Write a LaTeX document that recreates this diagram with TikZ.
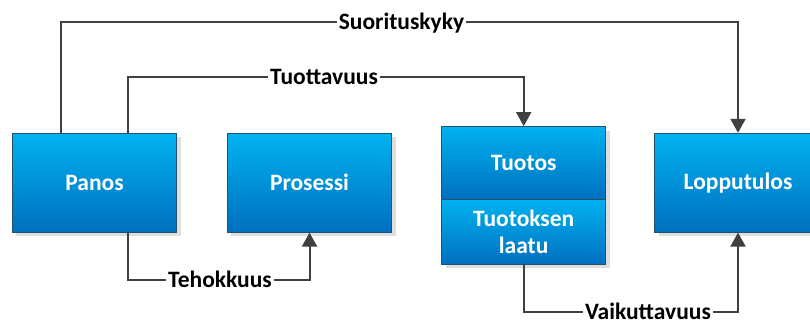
\documentclass[tikz,border=0pt]{standalone}
\usepackage{fontspec}
\setmainfont{Carlito}
\usetikzlibrary{arrows.meta,shadows,calc}
\definecolor{boxtop}{HTML}{00B2F0}
\definecolor{boxbot}{HTML}{0070BF}
\definecolor{boxedge}{HTML}{24506A}
\definecolor{wire}{HTML}{404040}
\tikzset{
  blockbox/.style={draw=boxedge, line width=1.1pt, top color=boxtop, bottom color=boxbot,
    drop shadow={shadow xshift=4pt, shadow yshift=-4pt, fill=black!13, opacity=1},
    text=white, font=\bfseries\fontsize{23.5}{27.5}\selectfont, align=center,
    inner sep=0pt},
  tag/.style={fill=white, text=black, font=\bfseries\fontsize{23.5}{27.5}\selectfont,
    text height=15pt, text depth=0pt, inner xsep=2pt, inner ysep=3pt},
  conn/.style={draw=wire, line width=2pt},
  arr/.style={conn, -{Triangle[length=14pt,width=15pt]}, shorten >=0pt}
}
\begin{document}
\begin{tikzpicture}[x=1pt,y=-1pt]
\useasboundingbox (0,0) rectangle (810,320);
\clip (0,0) rectangle (810,320);

% blocks
\node[blockbox, minimum width=164.5pt, minimum height=98.7pt] (panos) at (94.5,182.7) {Panos};
\node[blockbox, minimum width=164.5pt, minimum height=98.7pt] (pros) at (309.5,182.7) {Prosessi};
\node[blockbox, minimum width=164pt, minimum height=72.6pt] (tuot) at (523.7,163) {Tuotos};
\node[blockbox, minimum width=164pt, minimum height=65pt] (laatu) at (523.7,231.8) {Tuotoksen\\laatu};
\node[blockbox, minimum width=167pt, minimum height=98.7pt] (lopp) at (738,182.7) {Lopputulos};

% labels on the connectors
\node[tag] (suor) at (401.5,22) {Suorituskyky};
\node[tag] (tuott) at (324,77.5) {Tuottavuus};
\node[tag] (teho) at (220,280) {Tehokkuus};
\node[tag] (vaik) at (648,311.5) {Vaikuttavuus};

% connectors
\coordinate (p1) at ($(panos.north west)!0.3!(panos.north east)$);
\coordinate (p2) at ($(panos.north west)!0.703!(panos.north east)$);
\coordinate (p3) at ($(panos.south west)!0.703!(panos.south east)$);

\draw[conn] (p1) |- (suor.west);
\draw[arr] (suor.east) -| (lopp.north);
\draw[conn] (p2) |- (tuott.west);
\draw[arr] (tuott.east) -| (tuot.north);
\draw[conn] (p3) |- (teho.west);
\draw[arr] (teho.east) -| (pros.south);
\draw[conn] (laatu.south) |- (vaik.west);
\draw[arr] (vaik.east) -| (lopp.south);
\end{tikzpicture}
\end{document}
